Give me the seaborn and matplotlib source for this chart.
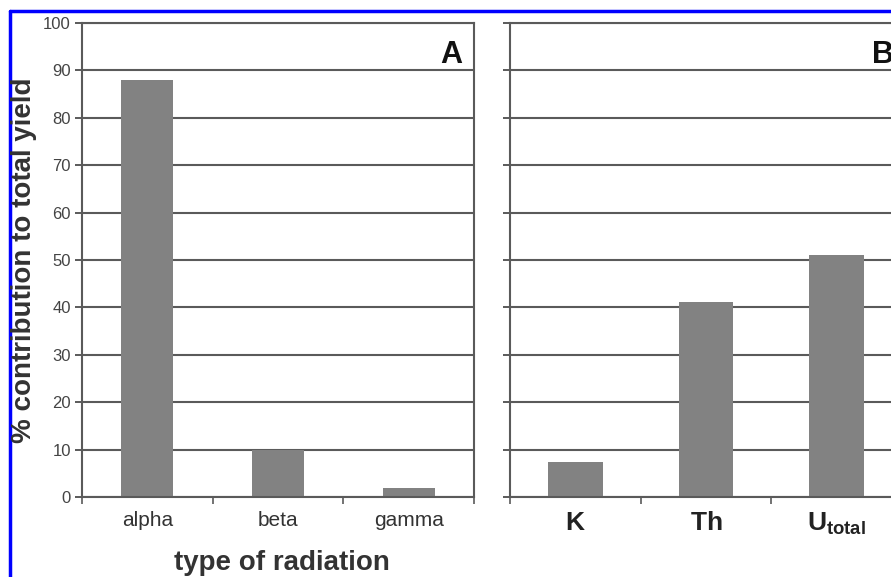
import matplotlib
matplotlib.use("Agg")
import matplotlib.pyplot as plt
import seaborn as sns
import pandas as pd
from matplotlib.lines import Line2D

# Data
radiation_types = ["alpha", "beta", "gamma"]
radiation_values = [88, 10, 2]
elements = ["K", "Th", "U_total"]
element_values = [7.4, 41.2, 51]
element_labels = [r"$\mathbf{K}$", r"$\mathbf{Th}$", r"$\mathbf{U}_{\mathbf{total}}$"]
y_ticks = list(range(0, 101, 10))

sns.set_theme(style="white")
plt.rcParams["font.family"] = ["Liberation Sans", "DejaVu Sans"]
plt.rcParams["mathtext.fontset"] = "custom"
plt.rcParams["mathtext.bf"] = "Liberation Sans:bold"
plt.rcParams["mathtext.rm"] = "Liberation Sans"
plt.rcParams["mathtext.it"] = "Liberation Sans:italic"

W, H = 891, 577
fig = plt.figure(figsize=(W / 100, H / 100), dpi=100)

def box(l, t, r, b):
    return [l / W, 1 - b / H, (r - l) / W, (b - t) / H]

axA = fig.add_axes(box(82, 23, 474, 497))
axB = fig.add_axes(box(510, 23, 902, 497))

dfA = pd.DataFrame({"type": radiation_types, "value": radiation_values})
dfB = pd.DataFrame({"element": elements, "value": element_values})

bar_color = "#828282"
grid_color = "#5a5a5a"

sns.barplot(data=dfA, x="type", y="value", ax=axA, color=bar_color,
            width=0.4, saturation=1, edgecolor="none")
sns.barplot(data=dfB, x="element", y="value", ax=axB, color=bar_color,
            width=0.42, saturation=1, edgecolor="none")

for ax in (axA, axB):
    ax.set_ylim(0, 100)
    ax.set_xlim(-0.5, 2.5)
    ax.set_yticks(y_ticks)
    ax.yaxis.grid(True, color=grid_color, linewidth=1.5)
    ax.set_axisbelow(True)
    for s in ax.spines.values():
        s.set_color(grid_color)
        s.set_linewidth(1.5)
        s.set_visible(True)
    ax.set_xlabel("")
    ax.set_ylabel("")
    ax.tick_params(axis="y", which="major", direction="out", length=5,
                   width=1.4, color=grid_color, left=True, pad=3)
    ax.tick_params(axis="x", which="major", length=0, pad=10)
    ax.set_xticks([-0.5, 0.5, 1.5, 2.5], minor=True)
    ax.tick_params(axis="x", which="minor", direction="out", length=5,
                   width=1.2, color=grid_color, bottom=True)

axA.set_yticklabels([str(v) for v in y_ticks], fontsize=12, color="#444444")
axA.set_xticks(range(len(radiation_types)))
axA.set_xticklabels(radiation_types, fontsize=15, color="#333333")
axB.set_yticklabels([])
axB.set_xticks(range(len(elements)))
axB.set_xticklabels(element_labels, fontsize=19, color="#222222")
axB.spines["right"].set_visible(False)

axA.text(0.97, 0.965, "A", transform=axA.transAxes, ha="right", va="top",
         fontsize=22, fontweight="bold", color="#111111")
axB.text(362 / 392, 0.965, "B", transform=axB.transAxes, ha="left", va="top",
         fontsize=22, fontweight="bold", color="#111111")

fig.text(282 / W, 1 - 563 / H, "type of radiation", ha="center", va="center",
         fontsize=20, fontweight="bold", color="#333333")
fig.text(24 / W, 1 - 260 / H, "% contribution to total yield", ha="center",
         va="center", rotation=90, fontsize=20, fontweight="bold", color="#333333")

# blue frame (top and left edges of the cropped image)
fig.add_artist(Line2D([10 / W, 10 / W], [0, 1 - 11 / H], transform=fig.transFigure,
                      color="#0000ff", linewidth=2.5))
fig.add_artist(Line2D([10 / W, 1], [1 - 11 / H, 1 - 11 / H], transform=fig.transFigure,
                      color="#0000ff", linewidth=2.5))

fig.savefig("out.png", dpi=100)
